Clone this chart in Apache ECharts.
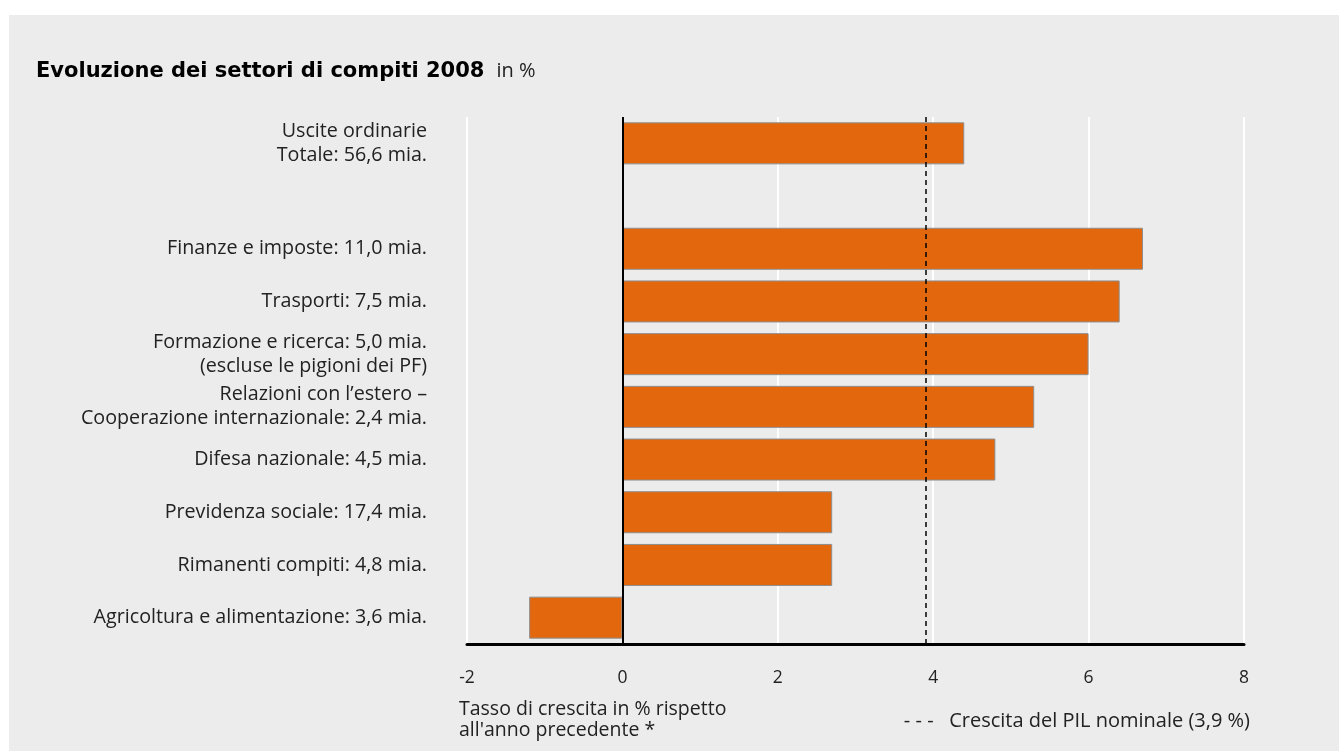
<!DOCTYPE html>
<html>
<head>
<meta charset="utf-8">
<script src="https://cdn.jsdelivr.net/npm/echarts@6/dist/echarts.min.js"></script>
<style>
  html, body { margin: 0; padding: 0; background: #ffffff; }
  #panel { position: absolute; left: 9px; top: 15px; width: 1330px; height: 736px; background: #ebeceb; }
  #chart { position: absolute; left: 0; top: 0; width: 1339px; height: 751px; }
</style>
</head>
<body>
<div id="panel"></div>
<div id="chart"></div>
<script>
// Task areas of the federal budget, top to bottom (the empty entry is a spacer row)
const categories = [
  'Uscite ordinarie\nTotale: 56,6 mia.',
  '',
  'Finanze e imposte: 11,0 mia.',
  'Trasporti: 7,5 mia.',
  'Formazione e ricerca: 5,0 mia.\n(escluse le pigioni dei PF)',
  'Relazioni con l\u2019estero \u2013\nCooperazione internazionale: 2,4 mia.',
  'Difesa nazionale: 4,5 mia.',
  'Previdenza sociale: 17,4 mia.',
  'Rimanenti compiti: 4,8 mia.',
  'Agricoltura e alimentazione: 3,6 mia.'
];

// Growth rate in % versus the previous year
const growth = [4.4, null, 6.7, 6.4, 6.0, 5.3, 4.8, 2.7, 2.7, -1.2];

// Nominal GDP growth (reference line)
const gdpGrowth = 3.9;

// Value axis ticks
const xTicks = [-2, 0, 2, 4, 6, 8];

const FONT = '"Open Sans", "Noto Sans", sans-serif';
const TITLE_FONT = '"DejaVu Sans", "Open Sans", sans-serif';
const TEXT = '#222222';

const chart = echarts.init(document.getElementById('chart'), null, { renderer: 'canvas' });

chart.setOption({
  backgroundColor: 'transparent',
  animation: false,
  textStyle: { fontFamily: FONT, color: TEXT },
  title: {
    left: 31,
    top: 56,
    text: '{b|Evoluzione dei settori di compiti 2008}{n|in %}',
    textStyle: {
      rich: {
        b: { fontFamily: TITLE_FONT, fontSize: 21, fontWeight: 'bold', color: '#000' },
        n: { fontFamily: FONT, fontSize: 20, fontWeight: 'normal', color: '#222', padding: [0, 0, 0, 12] }
      }
    }
  },
  grid: { left: 467, right: 95, top: 117, bottom: 107, containLabel: false },
  xAxis: {
    type: 'value',
    min: xTicks[0],
    max: xTicks[xTicks.length - 1],
    interval: xTicks[1] - xTicks[0],
    axisLine: { show: true, onZero: false, lineStyle: { color: '#000', width: 3 } },
    axisTick: { show: false },
    splitLine: { show: true, lineStyle: { color: '#ffffff', width: 2 } },
    axisLabel: {
      margin: 25,
      fontFamily: FONT,
      fontSize: 17.5,
      color: TEXT,
      formatter: v => String(v)
    }
  },
  yAxis: {
    type: 'category',
    inverse: true,
    data: categories,
    axisLine: { show: false },
    axisTick: { show: false },
    splitLine: { show: false },
    axisLabel: {
      margin: 40,
      fontFamily: FONT,
      fontSize: 19.7,
      lineHeight: 24,
      color: TEXT,
      align: 'right'
    }
  },
  series: [{
    type: 'bar',
    data: growth,
    barWidth: 42,
    itemStyle: { color: '#e3670c', borderColor: '#8e8e8e', borderWidth: 1 },
    markLine: {
      silent: true,
      symbol: 'none',
      label: { show: false },
      data: [
        { xAxis: 0, lineStyle: { color: '#000', width: 2, type: 'solid' } },
        { xAxis: gdpGrowth, lineStyle: { color: '#000', width: 1.5, type: [5, 4] } }
      ]
    }
  }],
  graphic: [
    {
      type: 'text',
      x: 459,
      y: 699,
      style: {
        text: 'Tasso di crescita in % rispetto\nall\'anno precedente *',
        font: '19.5px ' + FONT,
        fill: TEXT,
        lineHeight: 21,
        verticalAlign: 'top'
      }
    },
    {
      type: 'text',
      x: 1250,
      y: 721,
      style: {
        text: '- - -   Crescita del PIL nominale (' + gdpGrowth.toFixed(1).replace('.', ',') + ' %)',
        font: '20px ' + FONT,
        fill: TEXT,
        align: 'right',
        verticalAlign: 'middle'
      }
    }
  ]
});
</script>
</body>
</html>
